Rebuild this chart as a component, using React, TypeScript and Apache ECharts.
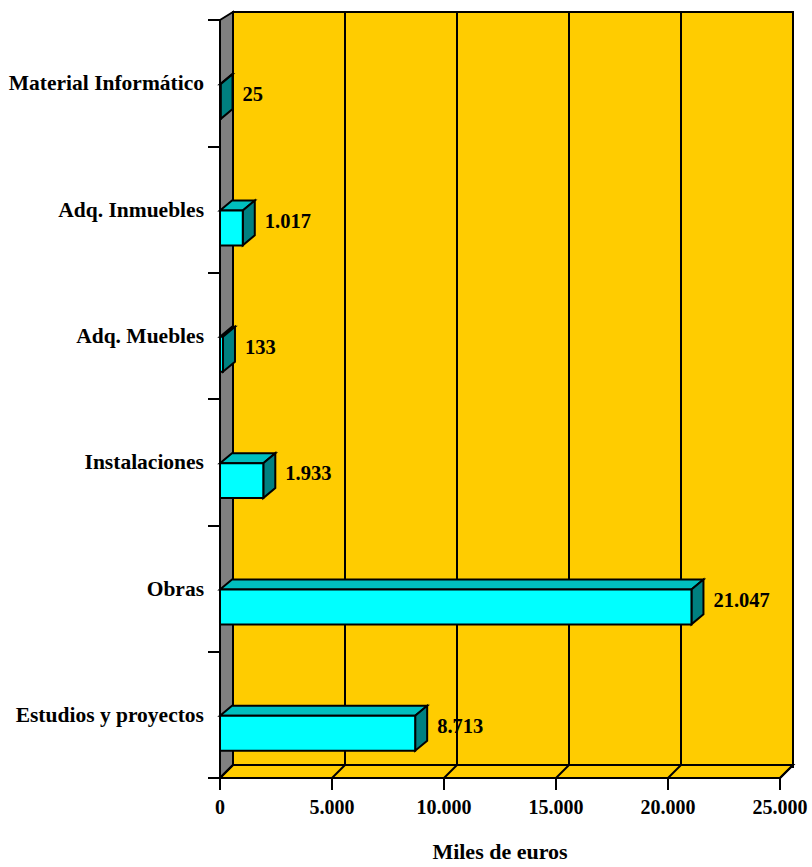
import React, { useEffect, useRef } from "react";
import * as echarts from "echarts";

const categories = [
  "Material Informático",
  "Adq. Inmuebles",
  "Adq. Muebles",
  "Instalaciones",
  "Obras",
  "Estudios y proyectos",
];
const values = [25, 1017, 133, 1933, 21047, 8713];
const xTicks = [0, 5000, 10000, 15000, 20000, 25000];
const xMin = 0;
const xMax = 25000;
const xInterval = 5000;
const axisTitle = "Miles de euros";

const FONT = "'Liberation Serif', 'Times New Roman', serif";
const fmt = (n: number) => String(n).replace(/\B(?=(\d{3})+(?!\d))/g, ".");

const DX = 13; // wall depth x
const DY_BOTTOM = 13;
const DY_TOP = 8;

export default function App() {
  const ref = useRef<HTMLDivElement>(null);
  useEffect(() => {
    if (!ref.current) return;
    const chart = echarts.init(ref.current, undefined, { renderer: "svg" });
    const option: any = {
      animation: false,
      backgroundColor: "#ffffff",
      grid: [
        { left: 220, top: 20, width: 560, height: 760, show: false },
        {
          left: 233,
          top: 12,
          width: 560,
          height: 755,
          show: true,
          backgroundColor: "#FFCC00",
          borderColor: "#000",
          borderWidth: 2,
        },
      ],
      xAxis: [
        {
          gridIndex: 0,
          type: "value",
          min: xMin,
          max: xMax,
          interval: xInterval,
          axisLine: { show: true, lineStyle: { color: "#000", width: 2 } },
          axisTick: { show: true, length: 12, lineStyle: { color: "#000", width: 2 } },
          axisLabel: {
            margin: 19,
            color: "#000",
            fontFamily: FONT,
            fontWeight: "bold",
            fontSize: 20,
            formatter: (v: number) => fmt(v),
          },
          splitLine: { show: false },
          name: axisTitle,
          nameLocation: "middle",
          nameGap: 62,
          nameTextStyle: { color: "#000", fontFamily: FONT, fontWeight: "bold", fontSize: 22 },
        },
        {
          gridIndex: 1,
          type: "value",
          min: xMin,
          max: xMax,
          interval: xInterval,
          axisLine: { show: false },
          axisTick: { show: false },
          axisLabel: { show: false },
          splitLine: { show: true, lineStyle: { color: "#000", width: 2 } },
        },
      ],
      yAxis: [
        {
          gridIndex: 0,
          type: "category",
          data: categories,
          inverse: true,
          axisLine: { show: true, lineStyle: { color: "#000", width: 2 } },
          axisTick: { show: true, length: 12, lineStyle: { color: "#000", width: 2 } },
          axisLabel: {
            margin: 16,
            color: "#000",
            fontFamily: FONT,
            fontWeight: "bold",
            fontSize: 21.5,
            padding: [4, 0, 0, 0],
          },
          splitLine: { show: false },
        },
        { gridIndex: 1, type: "value", show: false, min: 0, max: 1, splitLine: { show: false } },
      ],
      series: [
        {
          type: "custom",
          name: "walls",
          xAxisIndex: 0,
          yAxisIndex: 0,
          z: 1,
          silent: true,
          data: [[0, 0]],
          renderItem: (params: any) => {
            const cs = params.coordSys;
            const l = cs.x;
            const t = cs.y;
            const r = cs.x + cs.width;
            const b = cs.y + cs.height;
            return {
              type: "group",
              children: [
                {
                  type: "polygon",
                  shape: {
                    points: [
                      [l, t],
                      [l + DX, t - DY_TOP],
                      [l + DX, b - DY_BOTTOM],
                      [l, b],
                    ],
                  },
                  style: { fill: "#808080", stroke: "#000", lineWidth: 2 },
                },
                {
                  type: "polygon",
                  shape: {
                    points: [
                      [l, b],
                      [l + DX, b - DY_BOTTOM],
                      [r + DX, b - DY_BOTTOM],
                      [r, b],
                    ],
                  },
                  style: { fill: "#FFCC00", stroke: "#000", lineWidth: 2 },
                },
              ],
            };
          },
        },
        {
          type: "custom",
          name: "floorGrid",
          xAxisIndex: 0,
          yAxisIndex: 0,
          z: 2,
          silent: true,
          data: xTicks.map((t) => [t, 0]),
          renderItem: (params: any, api: any) => {
            const cs = params.coordSys;
            const b = cs.y + cs.height;
            const x = api.coord([api.value(0), 0])[0];
            return {
              type: "line",
              shape: { x1: x, y1: b, x2: x + DX, y2: b - DY_BOTTOM },
              style: { stroke: "#000", lineWidth: 2 },
            };
          },
        },
        {
          type: "custom",
          name: "Miles de euros",
          xAxisIndex: 0,
          yAxisIndex: 0,
          z: 3,
          data: values.map((v, i) => [v, i]),
          renderItem: (params: any, api: any) => {
            const val = api.value(0);
            const cat = api.value(1);
            const p0 = api.coord([0, cat]);
            const p1 = api.coord([val, cat]);
            const bw = api.size([0, 1])[1];
            const x0 = p0[0];
            const x1 = p1[0];
            const c = p0[1];
            const top = c + 0.008 * bw;
            const h = 0.276 * bw;
            const dx = 12;
            const dy = 10;
            const st = { stroke: "#000", lineWidth: 2, lineJoin: "miter" };
            return {
              type: "group",
              children: [
                {
                  type: "polygon",
                  shape: {
                    points: [
                      [x0, top],
                      [x0 + dx, top - dy],
                      [x1 + dx, top - dy],
                      [x1, top],
                    ],
                  },
                  style: { fill: "#00BFBF", ...st },
                },
                {
                  type: "polygon",
                  shape: {
                    points: [
                      [x1, top],
                      [x1 + dx, top - dy],
                      [x1 + dx, top + h - dy],
                      [x1, top + h],
                    ],
                  },
                  style: { fill: "#008080", ...st },
                },
                {
                  type: "rect",
                  shape: { x: x0, y: top, width: Math.max(x1 - x0, 0), height: h },
                  style: { fill: "#00FFFF", ...st },
                },
                {
                  type: "text",
                  x: x1 + dx + 10,
                  y: c + 11,
                  style: {
                    text: fmt(val),
                    fill: "#000",
                    fontFamily: FONT,
                    fontWeight: "bold",
                    fontSize: 20.5,
                    align: "left",
                    verticalAlign: "middle",
                  },
                },
              ],
            };
          },
        },
      ],
    };
    chart.setOption(option);
    return () => chart.dispose();
  }, []);
  return (
    <div
      ref={ref}
      style={{ position: "fixed", left: 0, top: 0, width: 812, height: 867, background: "#fff" }}
    />
  );
}
